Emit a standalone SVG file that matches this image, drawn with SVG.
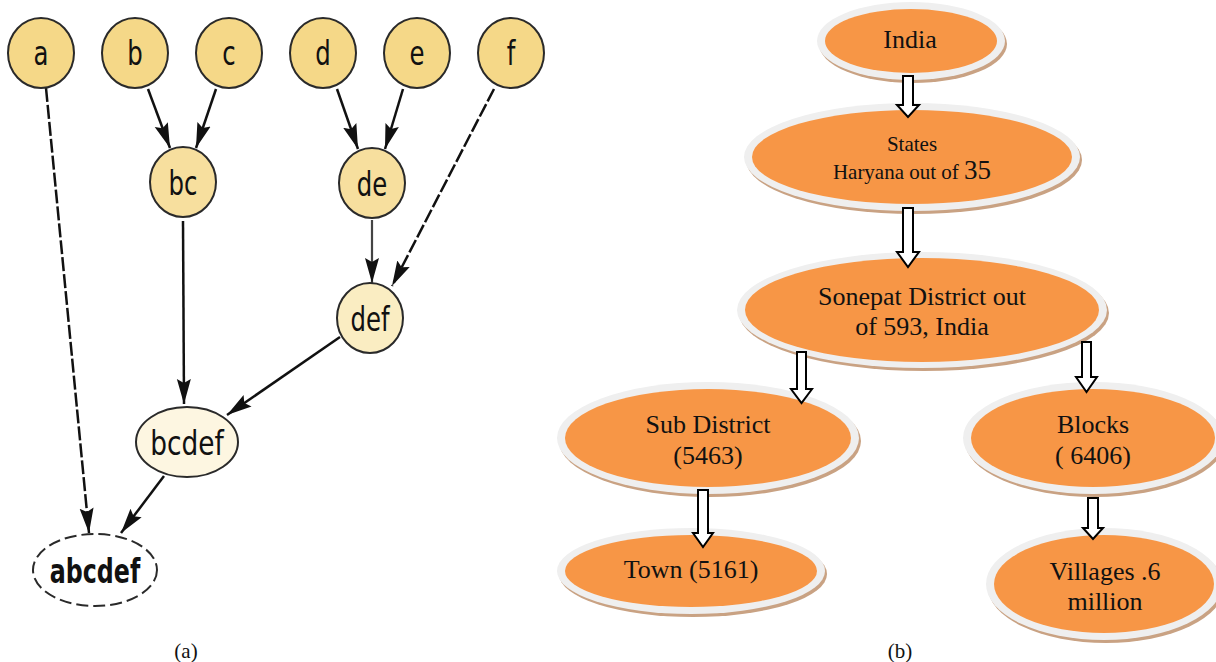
<svg xmlns="http://www.w3.org/2000/svg" width="1216" height="662" viewBox="0 0 1216 662">
<defs>
<style>
.n{stroke:#2a2a2a;stroke-width:2}
.lt{font-family:"DejaVu Sans","Liberation Sans",sans-serif;font-size:33px;fill:#111;text-anchor:middle}
.e{stroke:#111;stroke-width:2.5;fill:none}
.dash{stroke-dasharray:14 3}
.sh{fill:#c9a283}
.rg{fill:#efefef}
.or{fill:#f79646}
.rt{font-family:"Liberation Serif","Times New Roman",serif;font-size:26px;fill:#111;text-anchor:middle}
.ba{fill:#fff;stroke:#000;stroke-width:2;stroke-linejoin:miter}
.cap{font-family:"Liberation Serif","Times New Roman",serif;font-size:21px;fill:#111;text-anchor:middle}
</style>
<marker id="ah" markerUnits="userSpaceOnUse" markerWidth="26" markerHeight="16" refX="25" refY="8" orient="auto">
<path d="M0,1 L25,8 L0,15 L4,8 Z" fill="#111"/>
</marker>
</defs>

<g id="connectors-a">
<line class="e dash" x1="46" y1="88" x2="89" y2="533" marker-end="url(#ah)"/>
<line class="e" x1="148" y1="89" x2="170" y2="148" marker-end="url(#ah)"/>
<line class="e" x1="216" y1="89" x2="196" y2="148" marker-end="url(#ah)"/>
<line class="e" x1="337" y1="89" x2="358" y2="149" marker-end="url(#ah)"/>
<line class="e" x1="403" y1="89" x2="385" y2="149" marker-end="url(#ah)"/>
<line class="e dash" x1="494" y1="89" x2="392" y2="286" marker-end="url(#ah)"/>
<line class="e" style="stroke:#444;stroke-width:2.2" x1="372" y1="220" x2="372" y2="283" marker-end="url(#ah)"/>
<line class="e" x1="183" y1="221" x2="184" y2="404" marker-end="url(#ah)"/>
<line class="e" x1="340" y1="337" x2="227" y2="415" marker-end="url(#ah)"/>
<line class="e" x1="164" y1="476" x2="121" y2="533" marker-end="url(#ah)"/>
</g>

<g id="node-a"><ellipse class="n" cx="41" cy="53" rx="33" ry="35" fill="#f5d888"/><text class="lt" transform="translate(41,65) scale(0.74,1)">a</text></g>
<g id="node-b"><ellipse class="n" cx="135" cy="53" rx="33" ry="35" fill="#f5d888"/><text class="lt" transform="translate(135,65) scale(0.74,1)">b</text></g>
<g id="node-c"><ellipse class="n" cx="229" cy="53" rx="33" ry="35" fill="#f5d888"/><text class="lt" transform="translate(229,65) scale(0.74,1)">c</text></g>
<g id="node-d"><ellipse class="n" cx="323" cy="53" rx="33" ry="35" fill="#f5d888"/><text class="lt" transform="translate(323,65) scale(0.74,1)">d</text></g>
<g id="node-e"><ellipse class="n" cx="417" cy="53" rx="33" ry="35" fill="#f5d888"/><text class="lt" transform="translate(417,65) scale(0.74,1)">e</text></g>
<g id="node-f"><ellipse class="n" cx="511" cy="53" rx="33" ry="35" fill="#f5d888"/><text class="lt" transform="translate(511,65) scale(0.74,1)">f</text></g>
<g id="node-bc"><ellipse class="n" cx="183" cy="182" rx="33" ry="35" fill="#f7df9e"/><text class="lt" transform="translate(183,195) scale(0.74,1)">bc</text></g>
<g id="node-de"><ellipse class="n" cx="372" cy="183" rx="33" ry="35" fill="#f7df9e"/><text class="lt" transform="translate(372,196) scale(0.74,1)">de</text></g>
<g id="node-def"><ellipse class="n" cx="370" cy="318" rx="33" ry="35" fill="#faedc2"/><text class="lt" transform="translate(370,331) scale(0.74,1)">def</text></g>
<g id="node-bcdef"><ellipse class="n" cx="187" cy="442" rx="51" ry="35" fill="#fdf6e1"/><text class="lt" transform="translate(187,455) scale(0.8,1)">bcdef</text></g>
<g id="node-abcdef"><ellipse class="n" cx="95" cy="570" rx="62" ry="36" fill="#fff" style="stroke-dasharray:12 5"/><text class="lt" font-weight="bold" transform="translate(95,583) scale(0.72,1)">abcdef</text></g>

<g id="node-india">
<ellipse class="sh" cx="913" cy="44" rx="94" ry="39"/>
<ellipse class="rg" cx="911" cy="41" rx="94" ry="39"/>
<ellipse class="or" cx="911" cy="41" rx="86" ry="32"/>
<text class="rt" x="910" y="48">India</text>
</g>
<g id="node-states">
<ellipse class="sh" cx="914" cy="160" rx="168" ry="54"/>
<ellipse class="rg" cx="912" cy="157" rx="168" ry="54"/>
<ellipse class="or" cx="912" cy="157" rx="160" ry="47"/>
<text class="rt" x="912" y="151" style="font-size:21px">States</text>
<text class="rt" x="912" y="179" style="font-size:21px">Haryana out of <tspan style="font-size:27px">35</tspan></text>
</g>
<g id="node-sonepat">
<ellipse class="sh" cx="924" cy="313" rx="185" ry="58"/>
<ellipse class="rg" cx="922" cy="310" rx="185" ry="58"/>
<ellipse class="or" cx="922" cy="310" rx="177" ry="52"/>
<text class="rt" x="922" y="305">Sonepat District out</text>
<text class="rt" x="922" y="335">of 593, India</text>
</g>
<g id="node-subdistrict">
<ellipse class="sh" cx="710" cy="441" rx="151" ry="56"/>
<ellipse class="rg" cx="708" cy="438" rx="151" ry="56"/>
<ellipse class="or" cx="708" cy="438" rx="143" ry="49"/>
<text class="rt" x="708" y="433">Sub District</text>
<text class="rt" x="708" y="464">(5463)</text>
</g>
<g id="node-blocks">
<ellipse class="sh" cx="1095" cy="441" rx="130" ry="56"/>
<ellipse class="rg" cx="1093" cy="438" rx="130" ry="56"/>
<ellipse class="or" cx="1093" cy="438" rx="122" ry="49"/>
<text class="rt" x="1093" y="433">Blocks</text>
<text class="rt" x="1093" y="464">( 6406)</text>
</g>
<g id="node-town">
<ellipse class="sh" cx="693" cy="574" rx="134" ry="43"/>
<ellipse class="rg" cx="691" cy="571" rx="134" ry="43"/>
<ellipse class="or" cx="691" cy="571" rx="126" ry="36"/>
<text class="rt" x="691" y="578">Town (5161)</text>
</g>
<g id="node-villages">
<ellipse class="sh" cx="1106" cy="587" rx="118" ry="56"/>
<ellipse class="rg" cx="1104" cy="584" rx="118" ry="56"/>
<ellipse class="or" cx="1104" cy="584" rx="110" ry="49"/>
<text class="rt" x="1105" y="580">Villages .6</text>
<text class="rt" x="1105" y="610">million</text>
</g>

<g id="connectors-b">
<polygon class="ba" points="903,76 913,76 913,105 919,105 908,117 897,105 903,105"/>
<polygon class="ba" points="903,208 913,208 913,252 919,252 908,267 897,252 903,252"/>
<polygon class="ba" points="797,352 806,352 806,389 812,389 801.5,403 791,389 797,389"/>
<polygon class="ba" points="1082,342 1091,342 1091,377 1097,377 1086.5,392 1076,377 1082,377"/>
<polygon class="ba" points="698,490 708,490 708,533 713,533 703,547 693,533 698,533"/>
<polygon class="ba" points="1088,498 1098,498 1098,528 1103,528 1093,539 1083,528 1088,528"/>
</g>

<text class="cap" x="186" y="658">(a)</text>
<text class="cap" x="900" y="658">(b)</text>
</svg>
